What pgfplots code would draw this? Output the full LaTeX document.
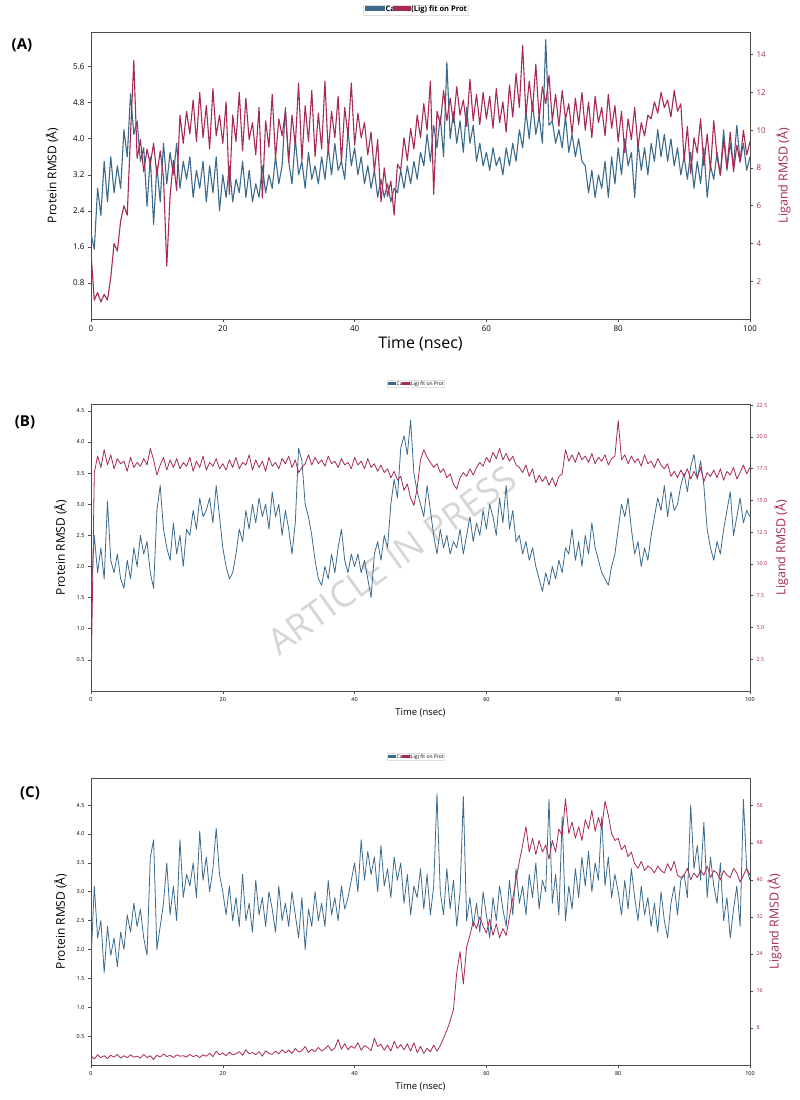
\documentclass[border=0pt]{standalone}
\usepackage{pgfplots}
\pgfplotsset{compat=1.18}
\usepackage{pgfplotstable}
\usepackage{fontspec}
\setmainfont{Open Sans}
\definecolor{cB}{HTML}{3B6A8C}
\definecolor{cR}{HTML}{A62A55}

% ---------- Panel A ----------
\pgfplotstableread[header=false,row sep=\\]{
1.9\\1.55\\2.9\\2.3\\3.5\\2.6\\3.6\\2.8\\3.4\\2.9\\
4.2\\3.6\\5.0\\4.1\\4.4\\3.5\\3.8\\2.5\\3.6\\2.1\\
3.4\\2.6\\3.9\\3.0\\3.7\\3.2\\3.9\\2.9\\3.5\\3.1\\
3.6\\2.7\\3.3\\2.9\\3.5\\2.6\\3.4\\2.8\\3.6\\2.4\\
3.2\\2.7\\3.4\\2.6\\3.1\\2.8\\3.5\\2.7\\3.3\\2.6\\
3.0\\2.7\\3.4\\2.8\\3.2\\2.9\\3.6\\3.0\\3.4\\4.7\\
3.5\\3.0\\4.0\\3.2\\3.5\\2.9\\3.7\\3.1\\3.4\\3.0\\
3.6\\3.1\\3.8\\3.2\\3.9\\3.3\\3.5\\3.1\\4.2\\3.4\\
3.8\\3.2\\3.6\\3.0\\3.4\\2.9\\3.3\\2.7\\3.1\\2.7\\
3.0\\2.6\\2.9\\2.8\\3.3\\2.9\\3.4\\3.0\\3.5\\3.1\\
3.7\\3.4\\4.1\\3.5\\4.3\\3.8\\4.5\\3.6\\5.7\\4.0\\
4.6\\3.9\\4.4\\3.7\\4.7\\3.9\\4.3\\3.5\\3.9\\3.4\\
3.7\\3.3\\3.8\\3.4\\3.6\\3.2\\3.8\\3.4\\3.9\\3.5\\
4.2\\3.8\\4.6\\4.0\\4.8\\4.1\\4.5\\3.9\\6.2\\4.3\\
4.4\\3.9\\4.2\\3.8\\4.5\\3.7\\4.1\\3.6\\4.0\\3.5\\
3.4\\2.8\\3.3\\2.7\\3.2\\2.9\\3.5\\2.7\\3.6\\3.0\\
3.8\\3.2\\4.0\\3.4\\3.7\\2.7\\3.9\\3.3\\3.8\\3.2\\
3.9\\3.5\\4.2\\3.6\\4.1\\3.5\\4.0\\3.4\\3.8\\3.2\\
3.6\\3.1\\3.7\\2.9\\3.5\\3.0\\3.8\\2.7\\3.4\\3.1\\
3.7\\3.2\\4.2\\3.3\\3.9\\3.4\\4.3\\3.5\\3.9\\3.3\\
3.6\\
}\PA
\pgfplotstableread[header=false,row sep=\\]{
3.5\\1.0\\1.4\\0.9\\1.3\\1.0\\2.2\\4.0\\3.6\\5.2\\
6.0\\5.5\\9.8\\13.7\\8.5\\9.5\\7.8\\9.0\\8.2\\9.3\\
7.6\\8.9\\7.5\\2.8\\6.5\\8.4\\6.8\\10.8\\9.3\\11.0\\
9.8\\11.6\\9.4\\12.0\\9.6\\11.3\\9.0\\12.2\\9.7\\10.8\\
9.3\\11.5\\6.6\\10.8\\9.4\\12.0\\8.9\\11.7\\9.5\\10.4\\
8.7\\11.2\\6.4\\10.5\\9.1\\11.9\\8.5\\10.6\\9.7\\11.0\\
8.3\\10.8\\9.2\\12.5\\8.4\\11.3\\9.4\\12.1\\8.6\\10.9\\
9.0\\12.6\\8.8\\11.0\\9.6\\11.8\\8.3\\11.2\\9.7\\12.5\\
9.2\\10.9\\9.6\\10.4\\8.7\\9.9\\7.8\\9.5\\6.2\\8.0\\
6.5\\7.3\\5.5\\8.2\\7.9\\9.6\\8.4\\10.1\\9.0\\10.8\\
9.6\\11.4\\10.0\\12.6\\6.6\\11.0\\10.3\\12.1\\10.5\\11.7\\
10.4\\12.3\\10.8\\11.6\\10.2\\12.7\\10.5\\11.9\\10.3\\12.0\\
10.6\\11.8\\10.1\\12.2\\10.4\\11.5\\9.9\\12.4\\10.7\\13.0\\
11.2\\14.5\\10.8\\12.6\\11.0\\13.5\\10.6\\12.3\\11.4\\12.9\\
10.5\\11.9\\10.2\\12.1\\10.6\\11.4\\9.8\\11.7\\10.3\\12.0\\
10.0\\11.5\\9.6\\11.8\\10.4\\11.2\\9.7\\11.9\\10.1\\11.3\\
9.4\\11.0\\8.8\\10.6\\9.5\\11.2\\9.1\\10.4\\9.7\\10.8\\
10.6\\11.5\\10.9\\12.0\\11.2\\11.6\\10.7\\12.1\\11.0\\11.4\\
8.4\\10.2\\7.7\\9.6\\8.8\\10.6\\8.1\\9.8\\7.9\\10.5\\
8.6\\7.6\\9.5\\8.0\\9.9\\7.8\\9.2\\8.3\\10.0\\8.7\\
9.4\\
}\LA

% ---------- Panel B ----------
\pgfplotstableread[header=false,row sep=\\]{
1.5\\2.5\\1.9\\2.3\\1.8\\3.05\\2.1\\1.9\\2.2\\1.8\\
1.65\\2.1\\1.8\\2.3\\2.0\\2.5\\2.2\\2.4\\1.9\\1.65\\
2.9\\3.3\\2.6\\2.3\\2.1\\2.7\\2.2\\2.5\\2.0\\2.6\\
2.5\\2.9\\2.6\\3.1\\2.8\\2.9\\3.1\\2.7\\3.3\\2.8\\
2.3\\2.0\\1.8\\1.9\\2.2\\2.6\\2.4\\2.9\\2.6\\3.0\\
2.7\\3.1\\2.8\\3.0\\2.6\\3.2\\2.8\\3.0\\2.5\\2.9\\
2.6\\2.2\\2.7\\3.9\\3.7\\3.0\\2.8\\2.5\\2.1\\1.8\\
1.7\\2.0\\1.8\\2.2\\1.9\\2.3\\2.6\\2.1\\1.9\\2.2\\
2.0\\2.2\\1.9\\2.1\\1.8\\1.5\\2.2\\2.4\\2.1\\2.5\\
2.3\\3.0\\3.4\\3.1\\3.9\\4.1\\3.8\\4.35\\3.5\\3.2\\
3.0\\2.8\\3.3\\2.9\\2.5\\2.2\\2.6\\2.3\\2.5\\2.2\\
2.4\\2.3\\2.6\\2.2\\2.5\\2.8\\2.4\\2.7\\2.5\\2.9\\
2.6\\3.0\\2.8\\2.5\\3.1\\2.7\\3.3\\2.6\\2.9\\2.4\\
2.5\\2.2\\2.4\\2.1\\2.3\\2.0\\1.8\\1.6\\1.9\\1.7\\
2.0\\1.8\\2.1\\1.9\\2.3\\2.2\\2.6\\2.1\\2.4\\2.0\\
2.5\\2.2\\2.7\\2.3\\2.1\\1.9\\1.8\\1.7\\2.0\\2.2\\
2.6\\3.0\\2.8\\3.1\\2.6\\2.2\\2.4\\2.0\\2.3\\2.1\\
2.5\\2.8\\3.1\\2.9\\3.3\\2.8\\3.2\\2.9\\3.0\\3.3\\
3.5\\3.2\\3.6\\3.8\\3.4\\3.7\\3.3\\2.6\\2.3\\2.1\\
2.4\\2.2\\2.6\\2.9\\3.2\\2.5\\2.8\\3.1\\2.7\\2.9\\
2.8\\
}\PB
\pgfplotstableread[header=false,row sep=\\]{
0.0\\17.2\\18.5\\17.6\\19.0\\17.8\\18.6\\17.5\\18.3\\17.9\\
18.1\\17.3\\18.4\\17.6\\18.0\\17.7\\18.3\\17.8\\19.1\\18.2\\
17.0\\17.8\\18.4\\17.4\\18.2\\17.6\\18.3\\17.5\\18.0\\17.7\\
18.4\\17.3\\18.1\\17.6\\18.5\\17.4\\18.0\\17.7\\18.3\\17.5\\
17.9\\17.4\\18.2\\17.6\\18.4\\17.5\\18.0\\17.8\\18.6\\17.4\\
18.2\\17.6\\18.1\\17.3\\18.4\\17.7\\18.0\\17.5\\18.3\\17.9\\
18.5\\17.6\\18.2\\17.2\\17.6\\17.9\\18.6\\17.8\\18.4\\17.9\\
18.2\\17.7\\18.5\\17.9\\18.1\\17.6\\18.3\\17.8\\18.0\\17.5\\
18.4\\17.8\\18.1\\17.5\\18.3\\17.6\\17.9\\17.3\\17.8\\17.2\\
17.5\\16.8\\17.3\\16.6\\16.9\\15.8\\16.3\\15.2\\14.6\\16.0\\
18.2\\19.0\\18.4\\18.0\\17.6\\17.9\\17.2\\17.5\\16.8\\17.1\\
16.3\\15.9\\16.8\\17.2\\16.9\\17.5\\17.0\\17.6\\18.0\\17.7\\
18.4\\18.0\\18.8\\18.3\\19.1\\18.2\\18.7\\18.1\\18.5\\17.8\\
17.6\\17.2\\17.8\\16.9\\17.5\\16.4\\17.0\\16.5\\16.9\\16.2\\
16.8\\16.1\\16.9\\17.1\\19.0\\18.1\\18.6\\18.0\\18.8\\18.2\\
18.5\\18.0\\18.7\\17.9\\18.4\\18.1\\18.6\\17.8\\18.3\\18.5\\
21.3\\18.2\\18.6\\17.9\\18.5\\18.0\\18.3\\17.7\\18.6\\17.9\\
18.1\\17.6\\18.3\\17.8\\17.5\\17.9\\16.9\\17.3\\16.8\\17.4\\
16.9\\17.5\\16.7\\17.3\\16.8\\17.6\\16.5\\17.2\\16.9\\17.4\\
16.8\\17.5\\16.6\\17.3\\17.0\\17.6\\16.7\\17.2\\17.8\\17.1\\
17.6\\
}\LB

% ---------- Panel C ----------
\pgfplotstableread[header=false,row sep=\\]{
1.8\\3.1\\2.2\\2.5\\1.6\\2.4\\1.9\\2.2\\1.7\\2.3\\
2.0\\2.6\\2.3\\2.8\\2.4\\2.7\\2.2\\1.9\\3.6\\3.9\\
2.0\\2.4\\2.8\\3.5\\2.6\\3.1\\2.5\\3.9\\2.9\\3.3\\
3.1\\3.5\\2.9\\4.05\\3.2\\3.6\\3.0\\3.4\\4.1\\3.3\\
3.0\\2.6\\3.1\\2.5\\2.9\\2.4\\3.3\\2.5\\2.8\\2.3\\
3.2\\2.6\\2.9\\2.4\\3.0\\2.7\\2.3\\3.1\\2.5\\2.8\\
2.4\\3.0\\2.6\\2.2\\2.9\\2.0\\2.7\\2.4\\3.0\\2.5\\
2.8\\2.4\\3.2\\2.6\\2.9\\2.5\\3.1\\2.7\\2.9\\3.2\\
3.5\\3.0\\3.9\\3.2\\3.7\\3.3\\3.6\\3.0\\3.8\\3.1\\
3.4\\2.9\\3.6\\3.2\\3.5\\2.8\\3.3\\2.6\\3.1\\2.9\\
3.4\\2.7\\3.3\\2.6\\3.1\\4.7\\3.0\\2.6\\3.4\\2.7\\
3.2\\2.4\\3.0\\4.65\\2.5\\2.9\\2.4\\2.8\\2.3\\3.0\\
2.6\\2.2\\2.9\\2.5\\3.1\\2.7\\2.4\\3.2\\2.6\\3.4\\
2.8\\3.1\\2.6\\3.3\\2.9\\3.5\\2.7\\3.2\\3.0\\4.6\\
2.8\\3.3\\2.6\\4.3\\2.5\\3.1\\2.7\\3.4\\2.9\\3.6\\
3.1\\3.7\\3.0\\3.5\\3.2\\4.3\\3.1\\3.6\\2.9\\3.3\\
3.0\\2.6\\3.2\\2.7\\3.4\\2.9\\2.5\\3.1\\2.6\\2.9\\
2.4\\2.8\\2.3\\3.0\\2.5\\2.2\\2.8\\3.1\\2.6\\3.2\\
3.3\\2.9\\4.5\\3.4\\3.8\\3.2\\4.2\\2.9\\3.6\\3.1\\
2.8\\3.5\\2.5\\2.9\\2.2\\2.7\\3.1\\2.4\\4.6\\3.4\\
3.2\\
}\PC
\pgfplotstableread[header=false,row sep=\\]{
2.0\\1.3\\2.2\\1.6\\2.0\\1.4\\2.1\\1.7\\2.3\\1.5\\
2.0\\1.6\\2.2\\1.7\\1.9\\1.5\\2.3\\1.6\\2.0\\1.2\\
2.1\\1.7\\2.4\\1.8\\2.1\\1.6\\2.2\\1.9\\2.0\\1.7\\
2.3\\1.8\\2.1\\1.6\\2.2\\1.9\\2.5\\1.8\\3.0\\2.2\\
2.6\\2.0\\2.8\\2.2\\2.4\\2.9\\2.1\\3.3\\2.4\\2.7\\
2.2\\2.9\\1.9\\3.1\\2.5\\2.3\\3.0\\2.4\\3.3\\2.6\\
3.2\\2.5\\3.6\\2.8\\3.1\\4.0\\2.7\\3.4\\2.9\\3.8\\
3.0\\3.5\\4.2\\3.1\\3.7\\5.5\\3.4\\4.6\\3.3\\4.1\\
3.6\\4.8\\3.2\\4.2\\3.8\\3.1\\5.8\\4.0\\4.5\\3.2\\
4.3\\3.0\\5.1\\3.6\\4.4\\3.3\\4.6\\3.0\\4.8\\2.7\\
4.0\\2.5\\3.6\\2.9\\4.3\\3.0\\4.2\\5.8\\7.5\\9.5\\
12.0\\20.0\\24.5\\17.5\\25.5\\28.0\\31.0\\29.5\\32.0\\30.0\\
28.5\\31.5\\28.0\\30.5\\27.5\\29.5\\28.0\\32.0\\36.0\\40.0\\
44.0\\47.5\\51.5\\46.0\\49.0\\45.5\\48.5\\46.0\\47.5\\44.5\\
48.5\\46.0\\51.0\\49.5\\57.5\\50.0\\52.5\\49.0\\51.5\\48.5\\
53.0\\51.0\\55.0\\50.5\\53.5\\51.0\\57.0\\54.0\\50.0\\48.5\\
49.0\\46.5\\47.5\\45.0\\46.0\\43.5\\42.5\\44.0\\42.0\\43.0\\
42.5\\41.5\\43.0\\42.0\\41.5\\43.5\\42.0\\44.0\\41.0\\40.5\\
41.0\\42.5\\40.0\\41.5\\40.5\\42.0\\41.0\\43.0\\40.5\\42.0\\
41.5\\40.0\\42.0\\41.0\\40.5\\42.5\\41.5\\39.5\\41.0\\42.5\\
41.0\\
}\LC

\pgfplotsset{
  base/.style={width=659pt, height=287pt, scale only axis, xmin=0, xmax=100, ymin=0,
    anchor=north west, /pgf/number format/assume math mode=true,
    tick align=outside, major tick length=3pt,
    axis line style={black!70, line width=0.8pt},
    tick style={black!70, line width=0.6pt}},
  leftax/.style={base, xtick={0,20,...,100}, xtick pos=bottom, ytick pos=left,
    yticklabel style={/pgf/number format/.cd, fixed, fixed zerofill, precision=1},
    ylabel={Protein RMSD (Å)}},
  rightax/.style={base, axis x line=none, axis y line*=right, ytick pos=right,
    yticklabel style={text=cR},
    ylabel={Ligand RMSD (Å)}, ylabel style={text=cR}},
  pl/.style={line width=0.8pt, line join=round},
}

\begin{document}
\begin{tikzpicture}
\useasboundingbox (0,0) rectangle (800pt,-1100pt);

% ===== Panel A =====
\node[font=\bfseries\fontsize{15}{17}\selectfont] at (22pt,-45pt) {(A)};
\node[draw=black!12, fill=white, inner sep=1.5pt, font=\bfseries\fontsize{7.5}{9}\selectfont] at (416pt,-10pt)
  {\textcolor{cB}{\rule[0.5pt]{20pt}{5pt}}\kern0.5pt Ca\kern-1.5pt\textcolor{cR}{\rule[0.5pt]{18pt}{5pt}}(Lig) fit on Prot};
\begin{axis}[leftax, at={(91pt,-32pt)}, ymax=6.37, ytick={0.8,1.6,...,5.7},
  ticklabel style={font=\fontsize{8}{9}\selectfont},
  xlabel={Time (nsec)}, xlabel style={font=\fontsize{16}{18}\selectfont, yshift=2pt},
  ylabel style={font=\fontsize{12}{14}\selectfont, yshift=8pt}]
\addplot[pl, cB, line width=1.1pt] table[x expr=\coordindex*0.5, y index=0] {\PA};
\end{axis}
\begin{axis}[rightax, at={(91pt,-32pt)}, ymax=15.2, ytick={2,4,...,14},
  ticklabel style={font=\fontsize{8}{9}\selectfont},
  ylabel style={font=\fontsize{12.5}{14}\selectfont, yshift=-4pt}]
\addplot[pl, cR, line width=1.1pt] table[x expr=\coordindex*0.5, y index=0] {\LA};
\end{axis}

% ===== Panel B =====
\node[font=\bfseries\fontsize{15}{17}\selectfont] at (25pt,-422pt) {(B)};
\node[draw=black!12, fill=white, inner sep=1pt, font=\fontsize{5}{6}\selectfont] at (416pt,-384pt)
  {\textcolor{cB}{\rule{8pt}{3.5pt}}\kern0.3pt Ca\kern-1pt\textcolor{cR}{\rule{8pt}{3.5pt}}(Lig) fit on Prot};
\node[rotate=35.5, text=black!16, font=\fontsize{36}{36}\selectfont] at (392pt,-560pt) {ARTICLE IN PRESS};
\begin{axis}[leftax, at={(91pt,-404pt)}, ymax=4.61, ytick={0.5,1.0,...,4.6},
  ticklabel style={font=\fontsize{5.5}{6}\selectfont},
  xlabel={Time (nsec)}, xlabel style={font=\fontsize{9.5}{11}\selectfont},
  ylabel style={font=\fontsize{12}{14}\selectfont, yshift=3pt}]
\addplot[pl, cB, line width=0.8pt] table[x expr=\coordindex*0.5, y index=0] {\PB};
\end{axis}
\begin{axis}[rightax, at={(91pt,-404pt)}, ymax=22.6, ytick={2.5,5,...,22.6},
  ticklabel style={font=\fontsize{5.5}{6}\selectfont},
  yticklabel style={/pgf/number format/.cd, fixed, fixed zerofill, precision=1},
  ylabel style={font=\fontsize{12.5}{14}\selectfont}]
\addplot[pl, cR, line width=0.8pt] table[x expr=\coordindex*0.5, y index=0] {\LB};
\end{axis}

% ===== Panel C =====
\node[font=\bfseries\fontsize{15}{17}\selectfont] at (30pt,-793pt) {(C)};
\node[draw=black!12, fill=white, inner sep=1pt, font=\fontsize{5}{6}\selectfont] at (416pt,-757pt)
  {\textcolor{cB}{\rule{8pt}{3.5pt}}\kern0.3pt Ca\kern-1pt\textcolor{cR}{\rule{8pt}{3.5pt}}(Lig) fit on Prot};
\begin{axis}[leftax, at={(91pt,-778pt)}, ymax=4.97, ytick={0.5,1.0,...,4.6},
  ticklabel style={font=\fontsize{5.5}{6}\selectfont},
  xlabel={Time (nsec)}, xlabel style={font=\fontsize{9.5}{11}\selectfont},
  ylabel style={font=\fontsize{12}{14}\selectfont, yshift=3pt}]
\addplot[pl, cB, line width=0.8pt] table[x expr=\coordindex*0.5, y index=0] {\PC};
\end{axis}
\begin{axis}[rightax, at={(91pt,-778pt)}, ymax=62, ytick={8,16,...,56},
  ticklabel style={font=\fontsize{5.5}{6}\selectfont},
  ylabel style={font=\fontsize{12.5}{14}\selectfont, yshift=2pt}]
\addplot[pl, cR, line width=0.8pt] table[x expr=\coordindex*0.5, y index=0] {\LC};
\end{axis}
\end{tikzpicture}
\end{document}
